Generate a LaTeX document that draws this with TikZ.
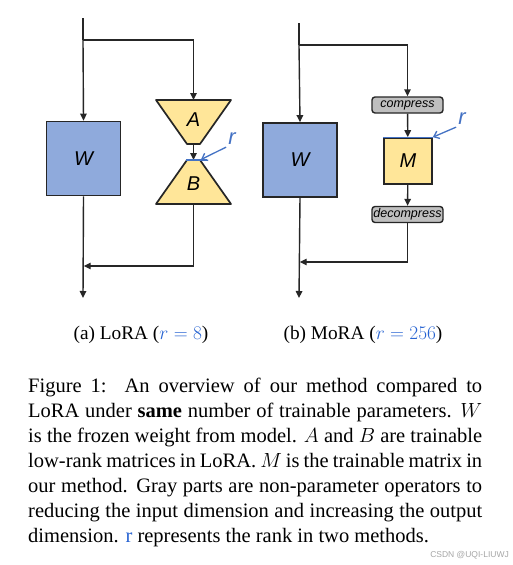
\RequirePackage{fix-cm}
\documentclass[tikz,border=0pt]{standalone}
\usepackage[no-math]{fontspec}
\setmainfont{Liberation Serif}
\newfontfamily\diagfont{Liberation Sans}
\usetikzlibrary{arrows.meta}

\definecolor{wblue}{RGB}{143,170,220}
\definecolor{myellow}{RGB}{255,230,153}
\definecolor{opgray}{RGB}{191,191,191}
\definecolor{rblue}{RGB}{68,114,196}
\definecolor{capblue}{RGB}{40,100,210}
\definecolor{edge}{RGB}{38,38,38}

\begin{document}
\begin{tikzpicture}
          [x=1pt,y=-1pt,
           line/.style={draw=edge,line width=1.4pt},
           arr/.style={line,-{Triangle[length=7pt,width=6.5pt]}},
           boxfont/.style={font=\diagfont\itshape\fontsize{20}{22}\selectfont},
           wbox/.style={draw=edge,line width=1.7pt,fill=wblue,inner sep=0pt,minimum size=74pt,boxfont},
           mbox/.style={draw=edge,line width=1.7pt,fill=myellow,inner sep=0pt,minimum width=48pt,minimum height=46pt,boxfont},
           trap/.style={draw=edge,line width=1.7pt,fill=myellow,line join=round},
           opbox/.style={draw=edge,line width=1.4pt,fill=opgray,rounded corners=3pt,inner sep=0pt,minimum width=71pt,minimum height=16pt,font=\diagfont\itshape\fontsize{12.5}{13}\selectfont},
           rline/.style={draw=rblue,line width=1.3pt},
           rarr/.style={rline,-{Straight Barb[length=5pt,width=8pt]}},
           rlab/.style={text=rblue,inner sep=0pt,font=\diagfont\itshape\fontsize{22}{22}\selectfont},
           subcap/.style={anchor=base,inner sep=0pt,font=\fontsize{19.3}{23}\selectfont},
           body/.style={anchor=north west,inner sep=0pt,text width=454pt,align=justify,font=\fontsize{20.5}{25}\selectfont}]

          \useasboundingbox[fill=white] (0,0) rectangle (512,565);

          % (a) LoRA
          \coordinate (inL) at (83,18);
          \coordinate (splitL) at (83,40);
          \node[wbox] (WL) at (83.5,158.5) {W};
          \draw[trap] (156,100) -- (231,100) -- (200,144) -- (187,144) -- cycle;
          \draw[trap] (187,160) -- (200,160) -- (231,204) -- (156,204) -- cycle;
          \node[boxfont,inner sep=0pt] (A) at (193.5,120) {A};
          \node[boxfont,inner sep=0pt] (B) at (193.5,184) {B};
          \coordinate (Atop) at (193.5,100);
          \coordinate (Abot) at (193.5,144);
          \coordinate (Btop) at (193.5,160);
          \coordinate (Bbot) at (193.5,204);
          \coordinate (mergeL) at (83.7,266);
          \coordinate (outL) at (83,298);

          \draw[line] (inL) -- (splitL);
          \draw[arr] (splitL) -- (WL.north);
          \draw[arr] (splitL) -| (Atop);
          \draw[arr] (Abot) -- (Btop);
          \draw[arr] (Bbot) |- (mergeL);
          \draw[arr] (WL.south) -- (outL);

          \draw[rline] (186,160) -- (207,160);
          \node[rlab] (rL) at (232,139) {r};
          \coordinate (rLtip) at (201,159.5);
          \draw[rarr] (rL.south west) ++(-2,2) -- (rLtip);

          % (b) MoRA
          \coordinate (inR) at (299,23);
          \coordinate (splitR) at (299,45);
          \node[wbox] (WR) at (300,160) {W};
          \node[opbox] (comp) at (407.5,105) {compress};
          \node[mbox] (M) at (408,161) {M};
          \node[opbox] (decomp) at (407.5,214.5) {decompress};
          \coordinate (mergeR) at (299.7,262);
          \coordinate (outR) at (299,298);

          \draw[line] (inR) -- (splitR);
          \draw[arr] (splitR) -- (WR.north);
          \draw[arr] (splitR) -| (comp.north);
          \draw[arr] (comp) -- (M);
          \draw[arr] (M) -- (decomp);
          \draw[arr] (decomp.south) |- (mergeR);
          \draw[arr] (WR.south) -- (outR);

          \draw[rline] (M.north west) -- (M.north east);
          \node[rlab] (rR) at (462,119) {r};
          \draw[rarr] (rR.south west) ++(-2,2) -- (M.north east);

          % captions
          \node[subcap] (capL) at (141,339) {(a) LoRA ({\color{capblue}$r=8$})};
          \node[subcap] (capR) at (363,339) {(b) MoRA ({\color{capblue}$r=256$})};

          \node[body] (text) at (28,378) {Figure 1:\ \ An overview of our method compared to\linebreak
            LoRA under \textbf{same} number of trainable parameters. $W$\linebreak
            is the frozen weight from model. $A$ and $B$ are trainable\linebreak
            low-rank matrices in LoRA. $M$ is the trainable matrix in\linebreak
            our method. Gray parts are non-parameter operators to\linebreak
            reducing the input dimension and increasing the output\linebreak
            dimension. {\color{capblue}r} represents the rank in two methods.};

          \node[anchor=base east,inner sep=0pt,text=black!35,font=\diagfont\fontsize{8.5}{9}\selectfont] (mark) at (509,557) {CSDN @UQI-LIUWJ};
        \end{tikzpicture}
\end{document}
